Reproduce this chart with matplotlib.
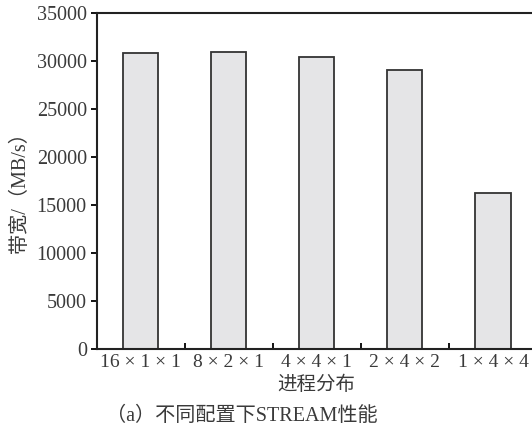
import numpy as np
import matplotlib.pyplot as plt
from matplotlib.ticker import FixedLocator

configs = ["16 × 1 × 1", "8 × 2 × 1", "4 × 4 × 1", "2 × 4 × 2", "1 × 4 × 4"]
bandwidth = [30750, 30900, 30400, 29000, 16200]
yticks = [0, 5000, 10000, 15000, 20000, 25000, 30000, 35000]

fonts = ["Liberation Serif", "Noto Sans CJK SC"]
plt.rcParams["font.family"] = fonts

W, H = 532, 433
fig = plt.figure(figsize=(W / 100, H / 100), dpi=100)
# axes run a little past the right edge of the figure
left, right, top, bottom = 96.5, 537, 12.5, 348.5
ax = fig.add_axes([left / W, 1 - bottom / H, (right - left) / W, (bottom - top) / H])

x = np.arange(len(configs))
ax.bar(x, bandwidth, width=0.4, color="#e5e5e7", edgecolor="#333333", linewidth=1.3)

ax.set_xlim(-0.5, len(configs) - 0.5)
ax.set_ylim(0, 35000)
ax.set_yticks(yticks)
ax.set_yticklabels([str(v) for v in yticks], fontsize=14.5, color="#3a3a3a")
ax.set_xticks(x)
ax.set_xticklabels(configs, fontsize=14, color="#3a3a3a")
ax.tick_params(axis="x", which="major", length=0, pad=4)
ax.tick_params(axis="y", direction="out", length=4, width=1.3, pad=3)
ax.xaxis.set_minor_locator(FixedLocator(x[:-1] + 0.5))
ax.tick_params(axis="x", which="minor", direction="in", length=4, width=1.3)
for s in ax.spines.values():
    s.set_linewidth(1.5)
    s.set_color("#222222")

ax.set_ylabel("带宽/（MB/s）", fontsize=14.5, color="#3a3a3a")
ax.yaxis.set_label_coords(-0.15, 0.48)
ax.set_xlabel("进程分布", fontsize=14, color="#3a3a3a", labelpad=3)
fig.text(242 / W, 1 - 416 / H, "（a）不同配置下STREAM性能", fontsize=14.5,
         color="#3a3a3a", ha="center", va="center")

fig.savefig("out.png", dpi=100)
